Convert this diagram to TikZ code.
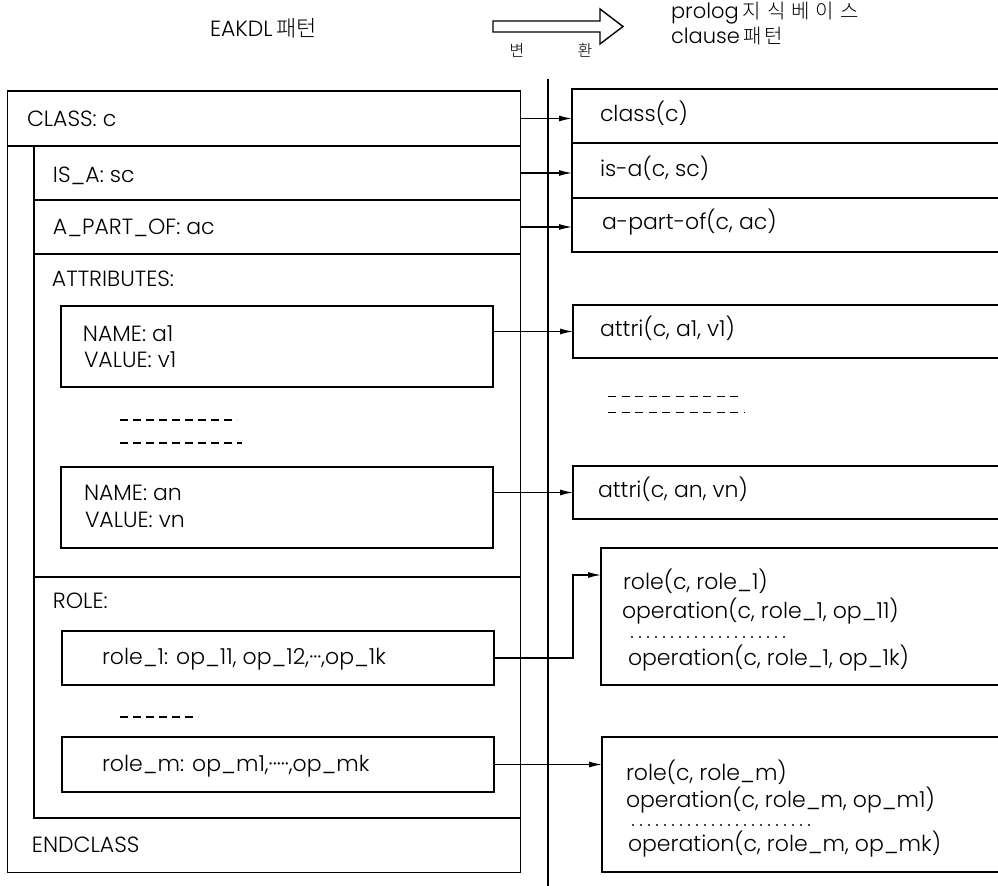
\documentclass[tikz,border=0pt]{standalone}
\usepackage{fontspec}
\IfFontExistsTF{Poppins Light}{\setmainfont{Poppins Light}}{\setmainfont{Poppins}}
\IfFontExistsTF{Noto Sans CJK KR Light}{\newfontfamily\krfont{Noto Sans CJK KR Light}}{\newfontfamily\krfont{Noto Sans CJK KR}}
\newcommand\kor[1]{{\krfont\fontsize{10}{12}\selectfont #1}}
\newcommand\korbig[1]{{\krfont\fontsize{11}{13}\selectfont #1}}
\newcommand\korsmall[1]{{\krfont\fontsize{8}{10}\selectfont #1}}
\usetikzlibrary{arrows.meta,fit}
\begin{document}
\begin{tikzpicture}[x=0.5pt,y=-0.5pt,
  region/.style={inner sep=0pt, outer sep=0pt},
  box/.style={region, draw, line width=0.8pt},
  ln/.style={line width=0.8pt},
  thin/.style={line width=0.5pt},
  lbl/.style={anchor=base west, inner sep=0pt, outer sep=0pt, font=\fontsize{11}{13}\selectfont},
  conn/.style={line width=0.6pt, -{Latex[length=6.5pt,width=3pt]}},
  dashL/.style={line width=0.6pt, dash pattern=on 4pt off 2.5pt},
  dashR/.style={line width=0.4pt, dash pattern=on 4pt off 2.8pt},
  dotR/.style={line width=1.2pt, line cap=round, dash pattern=on 0pt off 4pt},
]
\useasboundingbox (0,0) rectangle (998,886);

% ---------- header ----------
\node[lbl] (hdrL) at (210,37) {EAKDL\hspace{2pt}\korbig{패턴}};
\draw[line width=0.7pt] (493,21) -- (600,21) -- (600,9) -- (623,26.5) -- (600,44) -- (600,32) -- (493,32) -- cycle;
\node[anchor=base, inner sep=0pt] (hb1) at (517,57) {\korsmall{변}};
\node[anchor=base, inner sep=0pt] (hb2) at (585,57) {\korsmall{환}};
\node[lbl, font=\fontsize{10.5}{12}\selectfont] (hdrR1) at (671,19) {prolog\hspace{2pt}\kor{지\hspace{3pt}식\hspace{3pt}베\hspace{3pt}이\hspace{3pt}스}};
\node[lbl, font=\fontsize{10.5}{12}\selectfont] (hdrR2) at (671,44) {clause\hspace{2pt}\kor{패\hspace{1pt}턴}};

% ---------- main vertical divider ----------
\coordinate (vtop) at (548,79);
\coordinate (vbot) at (548,886);
\draw[ln] (vtop) -- (vbot);

% ---------- left: EAKDL structure ----------
\node[region, draw, thin, fit={(7,91)(520,873)}] (outer) {};
\draw[ln] (7,91) -- (520,91);
\node[region, fit={(7,91)(520,146)}] (rowclass) {};
\node[region, fit={(34,146)(520,818)}] (inner) {};
\node[region, fit={(34,146)(520,200)}] (rowisa) {};
\node[region, fit={(34,200)(520,254)}] (rowpart) {};
\node[region, fit={(34,254)(520,577)}] (rowattr) {};
\node[region, fit={(34,577)(520,818)}] (rowrole) {};
\draw[ln] (rowclass.south west) -- (rowclass.south east);
\draw[ln] (inner.north west) -- (inner.south west) -- (inner.south east);
\draw[ln] (rowisa.south west) -- (rowisa.south east);
\draw[ln] (rowpart.south west) -- (rowpart.south east);
\draw[ln] (rowattr.south west) -- (rowattr.south east);

\node[lbl] (tclass) at (27,127) {CLASS: c};
\node[lbl] (tisa) at (53,183) {IS\_A: sc};
\node[lbl] (tpart) at (53,235) {A\_PART\_OF: ac};
\node[lbl] (tattr) at (52,287) {ATTRIBUTES:};

\node[box, fit={(61,306)(493,387)}] (namea1) {};
\node[lbl] (tna1) at (83,342) {NAME: a1};
\node[lbl] (tva1) at (84,368) {VALUE: v1};
\draw[dashL] (120,420) -- (237,420);
\draw[dashL] (120,443) -- (242,443);
\node[box, fit={(61,467)(493,548)}] (namean) {};
\node[lbl] (tnan) at (84,501) {NAME: an};
\node[lbl] (tvan) at (85,528) {VALUE: vn};

\node[lbl] (trole) at (53,609) {ROLE:};
\node[box, fit={(62,631)(494,685)}] (role1) {};
\node[lbl] (trole1) at (102,665) {role\_1: op\_11, op\_12,···,op\_1k};
\draw[dashL] (120,717) -- (198,717);
\node[box, fit={(62,737)(494,792)}] (rolem) {};
\node[lbl] (trolem) at (102,772) {role\_m: op\_m1,·····,op\_mk};
\node[lbl] (tend) at (32,853) {ENDCLASS};

% ---------- right: prolog clauses ----------
\node[region, fit={(572,89)(998,143)}] (rclass) {};
\node[region, fit={(572,143)(998,198)}] (risa) {};
\node[region, fit={(572,198)(998,252)}] (rpart) {};
\draw[ln] (rclass.north east) -- (rclass.north west) -- (rpart.south west) -- (rpart.south east);
\draw[ln] (rclass.south west) -- (rclass.south east);
\draw[ln] (risa.south west) -- (risa.south east);
\node[lbl] (tcl) at (600,122) {class(c)};
\node[lbl] (tis) at (600,177) {is-a(c, sc)};
\node[lbl] (tpa) at (602,230) {a-part-of(c, ac)};

\node[region, fit={(573,305)(998,358)}] (rattr1) {};
\draw[ln] (rattr1.north east) -- (rattr1.north west) -- (rattr1.south west) -- (rattr1.south east);
\node[lbl] (ta1) at (600,337) {attri(c, a1, v1)};
\draw[dashR] (608,396) -- (743,396);
\draw[dashR] (608,412) -- (745,412);
\node[region, fit={(573,466)(998,519)}] (rattrn) {};
\draw[ln] (rattrn.north east) -- (rattrn.north west) -- (rattrn.south west) -- (rattrn.south east);
\node[lbl] (tan) at (598,498) {attri(c, an, vn)};

\node[region, fit={(601,548)(998,685)}] (rrole1) {};
\draw[ln] (rrole1.north east) -- (rrole1.north west) -- (rrole1.south west) -- (rrole1.south east);
\node[lbl] (tr1a) at (623,590) {role(c, role\_1)};
\node[lbl] (tr1b) at (622,619) {operation(c, role\_1, op\_11)};
\draw[dotR] (632,637) -- (790,637);
\node[lbl] (tr1c) at (628,666) {operation(c, role\_1, op\_1k)};

\node[region, fit={(602,737)(998,872)}] (rrolem) {};
\draw[ln] (rrolem.north east) -- (rrolem.north west) -- (rrolem.south west) -- (rrolem.south east);
\node[lbl] (trma) at (626,781) {role(c, role\_m)};
\node[lbl] (trmb) at (626,808) {operation(c, role\_m, op\_m1)};
\draw[dotR] (633,825) -- (810,825);
\node[lbl] (trmc) at (628,852) {operation(c, role\_m, op\_mk)};

% ---------- connectors ----------
\draw[conn] (rowclass.east) -- (rowclass.east -| rclass.west);
\draw[conn] (rowisa.east) -- (rowisa.east -| risa.west);
\draw[conn] (rowpart.east) -- (rowpart.east -| rpart.west);
\draw[conn] (rattr1.west -| namea1.east) -- (rattr1.west);
\draw[conn] (rattrn.west -| namean.east) -- (rattrn.west);
\coordinate (bend1) at (573,575);
\draw[conn] (role1.east) -| (bend1) -- (bend1 -| rrole1.west);
\draw[conn] (rolem.east) -- (rolem.east -| rrolem.west);
\end{tikzpicture}
\end{document}
